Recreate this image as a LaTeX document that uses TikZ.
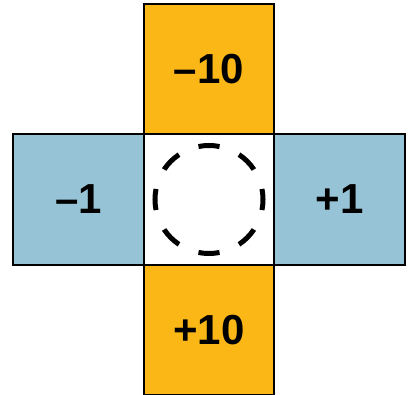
\documentclass[tikz,border=0pt]{standalone}
\usepackage{fontspec}
\setmainfont{Liberation Sans}
\usepackage{tikz}
\usetikzlibrary{positioning}
\usepackage{xcolor}
\definecolor{cellorange}{RGB}{251,183,21}
\definecolor{cellblue}{RGB}{150,196,214}

\begin{document}
\begin{tikzpicture}[x=1pt, y=1pt,
    cell/.style={draw=black, line width=2pt, minimum size=130.5pt, inner sep=0pt, outer sep=0pt,
                 font=\fontsize{42}{48}\selectfont\bfseries}]
    \useasboundingbox (0, 0) rectangle (409, 395);

    % 中心格
    \node[cell, fill=white] (mid) at (209, 195.5) {};

    % 上下格
    \node[cell, fill=cellorange, above=0pt of mid] (up) {–10};
    \node[cell, fill=cellorange, below=0pt of mid] (down) {+10};

    % 左右格
    \node[cell, fill=cellblue, left=0pt of mid] (west) {–1};
    \node[cell, fill=cellblue, right=0pt of mid] (east) {+1};

    % 虚线圆
    \draw[line width=5pt, dash pattern=on 21.2pt off 21.2pt, dash phase=10.6pt] (mid.center) circle (54);
\end{tikzpicture}
\end{document}
